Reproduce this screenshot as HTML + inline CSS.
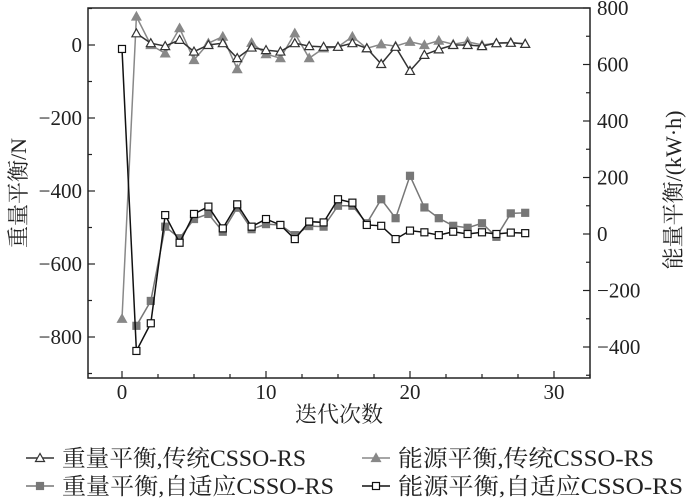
<!DOCTYPE html>
<html><head><meta charset="utf-8"><style>
html,body{margin:0;padding:0;background:#fff;width:700px;height:500px;overflow:hidden}
svg text{font-family:"Liberation Serif","Noto Serif CJK SC",serif;fill:#222}
</style></head><body>
<svg id="chart" width="700" height="500" xmlns="http://www.w3.org/2000/svg"></svg>
<script>
const xTicks=[0,10,20,30];
const yLeftTicks=[0,-200,-400,-600,-800];
const yRightTicks=[800,600,400,200,0,-200,-400];
const wTradX=[1,2,3,4,5,6,7,8,9,10,11,12,13,14,15,16,17,18,19,20,21,22,23,24,25,26,27,28];
const wTrad=[32,5,-3,14,-18,0,5,-36,-7,-14,-18,5,-3,-5,-5,5,-9,-52,-5,-71,-27,-12,0,0,-3,5,6,3];
const eTradX=[0,1,2,3,4,5,6,7,8,9,10,11,12,13,14,15,16,17,18,19,20,21,22,23,24,25,26,27,28];
const eTrad=[-750,78,0,-23,46,-41,5,23,-66,6,-25,-36,32,-36,-9,-5,23,-9,2,-3,9,0,12,2,9,0,5,7,3];
const wAdaX=[1,2,3,4,5,6,7,8,9,10,11,12,13,14,15,16,17,18,19,20,21,22,23,24,25,26,27,28];
const wAda=[-325,-237,26,-15,53,71,8,93,17,35,32,-4,28,26,100,100,38,123,56,206,94,56,29,22,38,-10,73,75];
const eAdaX=[0,1,2,3,4,5,6,7,8,9,10,11,12,13,14,15,16,17,18,19,20,21,22,23,24,25,26,27,28];
const eAda=[655,-414,-316,67,-31,71,97,20,105,26,53,32,-18,44,41,123,111,32,29,-18,12,6,-4,8,0,6,0,5,3];

const L=88,R=590,T=8,B=378;
const sx=v=>122+v*14.4;
const syL=v=>45-v*73/200;
const syR=v=>234-v*226/800;
const svg=document.getElementById('chart');
const NS='http://www.w3.org/2000/svg';
function mk(tag,attrs,parent){const e=document.createElementNS(NS,tag);for(const k in attrs)e.setAttribute(k,attrs[k]);(parent||svg).appendChild(e);return e;}

const frame=mk('rect',{x:L,y:T,width:R-L,height:B-T,fill:'none',stroke:'#222','stroke-width':1.5});



for(let v=-2.5;v<=32.5;v+=2.5){const x=sx(v);if(x<L||x>R)continue;const major=v%10===0;
 const t=mk('line',{x1:x,x2:x,y1:B,y2:B-(major?7:4),stroke:'#222','stroke-width':1.2});
 
 }
xTicks.forEach(v=>{const t=mk('text',{x:sx(v),y:399,'font-size':21,'text-anchor':'middle'});t.textContent=v;
 
 });
for(let v=-900;v<=100;v+=100){const y=syL(v);if(y<T||y>B)continue;const major=v%200===0;
 const t=mk('line',{x1:L,x2:L+(major?7:4),y1:y,y2:y,stroke:'#222','stroke-width':1.2});
 
 }
yLeftTicks.forEach(v=>{const t=mk('text',{x:82,y:syL(v)+7,'font-size':21,'text-anchor':'end'});t.textContent=v<0?'\u2212'+(-v):v;
 
 });
for(let v=-500;v<=800;v+=100){const y=syR(v);if(y<T||y>B)continue;const major=v%200===0;
 const t=mk('line',{x1:R,x2:R-(major?7:4),y1:y,y2:y,stroke:'#222','stroke-width':1.2});
 
 }
yRightTicks.forEach(v=>{const t=mk('text',{x:597,y:syR(v)+7,'font-size':21,'text-anchor':'start'});t.textContent=v<0?'\u2212'+(-v):v;
 
 });

const yl=mk('text',{x:0,y:0,'font-size':22,'text-anchor':'middle',transform:'translate(26,193) rotate(-90)'});yl.textContent='重量平衡/N';


const yr=mk('text',{x:0,y:0,'font-size':22,'text-anchor':'middle',transform:'translate(681,190) rotate(-90)'});yr.textContent='能量平衡/(kW·h)';


const xt=mk('text',{x:339,y:422,'font-size':22,'text-anchor':'middle'});xt.textContent='迭代次数';



function marker(g,x,y,shape,color,filled){
 if(shape==='tri')return mk('polygon',{points:`${x},${y-4.5} ${x-4.5},${y+3.5} ${x+4.5},${y+3.5}`,fill:filled?color:'#fff',stroke:color,'stroke-width':1.2},g);
 return mk('rect',{x:x-3.5,y:y-3.5,width:7,height:7,fill:filled?color:'#fff',stroke:color,'stroke-width':1.2},g);
}
function series(name,xs,ys,sy,shape,color,filled){
 const g=mk('g',{});
 
 
 const pts=xs.map((x,i)=>[sx(x),sy(ys[i])]);
 mk('polyline',{points:pts.map(p=>p.join(',')).join(' '),fill:'none',stroke:color,'stroke-width':1.5},g);
 pts.forEach(p=>{const m=marker(g,p[0],p[1],shape,color,filled);
  
  });
}
series('series-energy-trad',eTradX,eTrad,syL,'tri','#888',true);
series('series-weight-trad',wTradX,wTrad,syL,'tri','#333',false);
series('series-weight-adaptive',wAdaX,wAda,syR,'sq','#777',true);
series('series-energy-adaptive',eAdaX,eAda,syR,'sq','#111',false);

const legend=[['重量平衡,传统CSSO-RS','tri','#333',false,26,458,244],['能源平衡,传统CSSO-RS','tri','#888',true,362,458,256],
['重量平衡,自适应CSSO-RS','sq','#777',true,26,486,272],['能源平衡,自适应CSSO-RS','sq','#111',false,362,486,285]];
legend.forEach(l=>{const g=mk('g',{});
 
 
 mk('line',{x1:l[4],x2:l[4]+28,y1:l[5],y2:l[5],stroke:l[2],'stroke-width':1.5},g);
 marker(g,l[4]+14,l[5],l[1],l[2],l[3]);
 const t=mk('text',{x:l[4]+36,y:l[5]+8,'font-size':23,textLength:l[6],lengthAdjust:'spacingAndGlyphs'},g);t.textContent=l[0];});
</script>
</body></html>
